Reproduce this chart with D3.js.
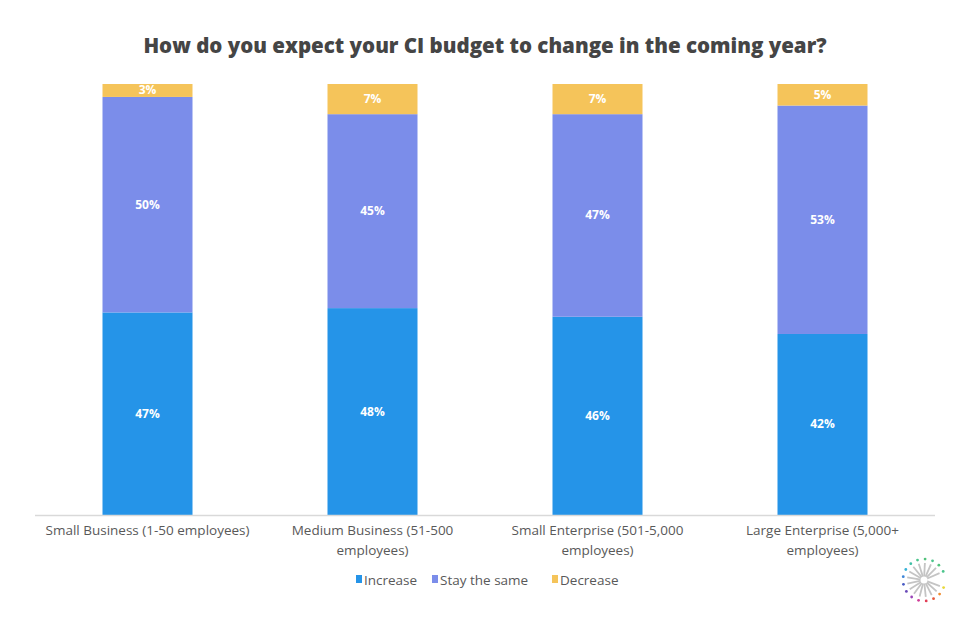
<!DOCTYPE html>
<html>
<head>
<meta charset="utf-8">
<script src="https://cdn.jsdelivr.net/npm/d3@7"></script>
<style>
  body { margin: 0; background: #fff; }
  svg { display: block; }
</style>
</head>
<body>
<svg id="chart" width="974" height="625"></svg>
<script>
"use strict"

let categories = [
    ["Small Business (1-50 employees)"],
    ["Medium Business (51-500", "employees)"],
    ["Small Enterprise (501-5,000", "employees)"],
    ["Large Enterprise (5,000+", "employees)"]
]
let seriesNames = ["Increase", "Stay the same", "Decrease"]
let increase = [47, 48, 46, 42]
let stay = [50, 45, 47, 53]
let decrease = [3, 7, 7, 5]
let colors = ["#2594e8", "#7b8dea", "#f5c45a"]

let svg = d3.select("#chart")
let plotLeft = 35, plotRight = 935, plotTop = 84, plotBottom = 515

let rows = categories.map(function(c, i) {
    return { key: i, Increase: increase[i], "Stay the same": stay[i], Decrease: decrease[i] }
})
let stacked = d3.stack().keys(seriesNames)(rows)

let x = d3.scaleBand().domain(d3.range(categories.length)).range([plotLeft, plotRight]).paddingInner(0.6).paddingOuter(0.3)
let y = d3.scaleLinear().domain([0, 100]).range([plotBottom, plotTop])

svg.append("text")
    .attr("x", 485).attr("y", 53)
    .attr("text-anchor", "middle")
    .attr("font-family", "Open Sans, sans-serif")
    .attr("font-weight", 800)
    .attr("font-size", 20.5)
    .attr("fill", "#454545")
    .text("How do you expect your CI budget to change in the coming year?")

let groups = svg.selectAll("g.series")
    .data(stacked)
    .enter().append("g")
    .attr("class", "series")
    .attr("fill", function(d, i) { return colors[i] })

groups.selectAll("rect")
    .data(function(d) { return d })
    .enter().append("rect")
    .attr("x", function(d, i) { return x(i) })
    .attr("width", x.bandwidth())
    .attr("y", function(d) { return y(d[1]) })
    .attr("height", function(d) { return y(d[0]) - y(d[1]) })

groups.selectAll("text")
    .data(function(d) { return d.map(function(p) { return { p: p, key: d.key } }) })
    .enter().append("text")
    .attr("x", function(d, i) { return x(i) + x.bandwidth() / 2 })
    .attr("y", function(d) { return (y(d.p[0]) + y(d.p[1])) / 2 + 4 })
    .attr("text-anchor", "middle")
    .attr("font-family", "Open Sans, sans-serif")
    .attr("font-weight", 700)
    .attr("font-size", 12)
    .attr("fill", "#fff")
    .text(function(d) { return (d.p[1] - d.p[0]) + "%" })

// axis line
svg.append("line")
    .attr("x1", plotLeft).attr("x2", plotRight)
    .attr("y1", plotBottom + 0.5).attr("y2", plotBottom + 0.5)
    .attr("stroke", "#d9d9d9").attr("stroke-width", 1.5)

let catText = svg.selectAll("text.cat")
    .data(categories)
    .enter().append("text")
    .attr("class", "cat")
    .attr("text-anchor", "middle")
    .attr("font-family", "Open Sans, sans-serif")
    .attr("font-size", 13.5)
    .attr("fill", "#595959")

catText.selectAll("tspan")
    .data(function(d, i) { return d.map(function(t) { return { t: t, i: i } }) })
    .enter().append("tspan")
    .attr("x", function(d) { return x(d.i) + x.bandwidth() / 2 })
    .attr("y", function(d, j) { return 535 + j * 19.5 })
    .text(function(d) { return d.t })

// legend
let legendX = [356, 432, 552]
let legend = svg.selectAll("g.legend")
    .data(seriesNames)
    .enter().append("g")
    .attr("class", "legend")
    .attr("transform", function(d, i) { return "translate(" + legendX[i] + ",580)" })

legend.append("rect")
    .attr("x", 0).attr("y", -5)
    .attr("width", 6).attr("height", 8)
    .attr("fill", function(d, i) { return colors[i] })

legend.append("text")
    .attr("x", 8).attr("y", 4.5)
    .attr("font-family", "Open Sans, sans-serif")
    .attr("font-size", 13.5)
    .attr("fill", "#595959")
    .text(function(d) { return d })

// small logo mark, opening to the right
let logo = svg.append("g").attr("transform", "translate(924,580)")
let dotColors = ["#4cc58c", "#52c27c", "#4cc58c", "#52c27c", "#4cc58c", "#3fc0a6", "#38b3d8", "#3f86d8",
                 "#4a5cc4", "#6a4ab8", "#9a44b8", "#d03e98", "#e23e56", "#e8583a", "#f08c30", "#e8d83a"]
d3.range(16).forEach(function(i) {
    let ang = -(24 + i * 21) * Math.PI / 180
    logo.append("line")
        .attr("x1", 3 * Math.cos(ang)).attr("y1", 3 * Math.sin(ang))
        .attr("x2", 17 * Math.cos(ang)).attr("y2", 17 * Math.sin(ang))
        .attr("stroke", "#c4c4c4").attr("stroke-width", 1.8)
    logo.append("circle")
        .attr("cx", 21 * Math.cos(ang)).attr("cy", 21 * Math.sin(ang))
        .attr("r", 1.4).attr("fill", dotColors[i])
})
logo.append("circle").attr("r", 3.5).attr("fill", "#fff")
</script>
</body>
</html>
